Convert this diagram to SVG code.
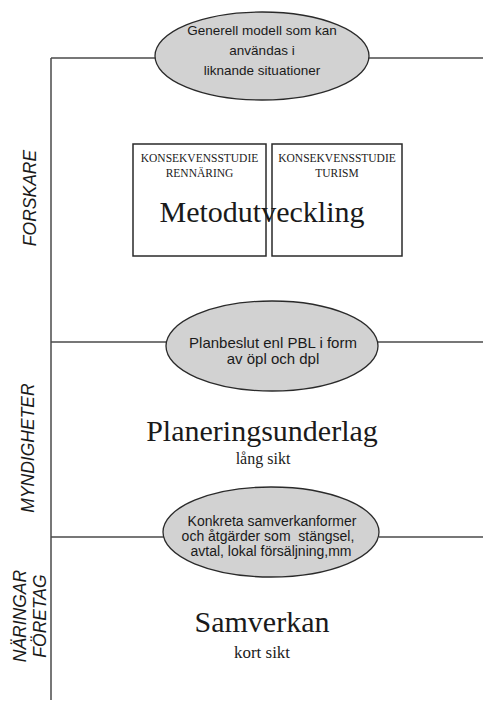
<svg xmlns="http://www.w3.org/2000/svg" width="483" height="701" viewBox="0 0 483 701">
<style>
.ln{stroke:#4a4a4a;stroke-width:1.5;fill:none}
.el{fill:#d2d2d2;stroke:#2a2a2a;stroke-width:1.3}
.bx{fill:none;stroke:#2a2a2a;stroke-width:1.5}
.es{font-family:"Liberation Sans",Arial,sans-serif;fill:#1a1a1a;text-anchor:middle}
.sr{font-family:"Liberation Serif","Times New Roman",serif;fill:#1a1a1a;text-anchor:middle}
.lab{font-family:"Liberation Sans",Arial,sans-serif;font-style:italic;font-size:17.5px;fill:#1a1a1a;text-anchor:middle}
</style>
<rect width="483" height="701" fill="#ffffff"/>
<g id="connectors">
<line class="ln" x1="51" y1="58" x2="51" y2="700"/>
<line class="ln" x1="51" y1="58" x2="156" y2="58"/>
<line class="ln" x1="368" y1="58" x2="483" y2="58"/>
<line class="ln" x1="51" y1="342" x2="167" y2="342"/>
<line class="ln" x1="378" y1="342" x2="483" y2="342"/>
<line class="ln" x1="51" y1="537" x2="164" y2="537"/>
<line class="ln" x1="379" y1="537" x2="483" y2="537"/>
</g>
<g id="label-forskare"><text class="lab" transform="translate(36,198) rotate(-90)">FORSKARE</text></g>
<g id="label-myndigheter"><text class="lab" transform="translate(34,448) rotate(-90)">MYNDIGHETER</text></g>
<g id="label-naringar"><text class="lab" transform="translate(26,616) rotate(-90)">NÄRINGAR</text><text class="lab" transform="translate(46,616) rotate(-90)">FÖRETAG</text></g>
<g id="ellipse-generell">
<ellipse class="el" cx="262" cy="56" rx="107" ry="44"/>
<text class="es" font-size="13.5" x="262" y="35">Generell modell som kan</text>
<text class="es" font-size="13.5" x="262" y="55">användas i</text>
<text class="es" font-size="13.5" x="262" y="75">liknande situationer</text>
</g>
<g id="box-rennaring">
<rect class="bx" x="133" y="144" width="133" height="112"/>
<text class="sr" font-size="11.5" x="199.5" y="162">KONSEKVENSSTUDIE</text>
<text class="sr" font-size="11.5" x="199.5" y="177">RENNÄRING</text>
</g>
<g id="box-turism">
<rect class="bx" x="272" y="144" width="130" height="112"/>
<text class="sr" font-size="11.5" x="337" y="162">KONSEKVENSSTUDIE</text>
<text class="sr" font-size="11.5" x="337" y="177">TURISM</text>
</g>
<g id="metodutveckling"><text class="sr" font-size="30" x="262" y="222">Metodutveckling</text></g>
<g id="ellipse-planbeslut">
<ellipse class="el" cx="272" cy="346" rx="106" ry="45"/>
<text class="es" font-size="15" x="273" y="348">Planbeslut enl PBL i form</text>
<text class="es" font-size="15" x="273" y="364">av öpl och dpl</text>
</g>
<g id="planeringsunderlag">
<text class="sr" font-size="30" x="262" y="441">Planeringsunderlag</text>
<text class="sr" font-size="16" x="263" y="464">lång sikt</text>
</g>
<g id="ellipse-konkreta">
<ellipse class="el" cx="271" cy="532" rx="108" ry="45"/>
<text class="es" font-size="14" x="272" y="526">Konkreta samverkanformer</text>
<text class="es" font-size="14" x="268" y="541" xml:space="preserve">och åtgärder som  stängsel,</text>
<text class="es" font-size="14" x="271" y="556">avtal, lokal försäljning,mm</text>
</g>
<g id="samverkan">
<text class="sr" font-size="30" x="262" y="632">Samverkan</text>
<text class="sr" font-size="17" x="262" y="658">kort sikt</text>
</g>
</svg>
